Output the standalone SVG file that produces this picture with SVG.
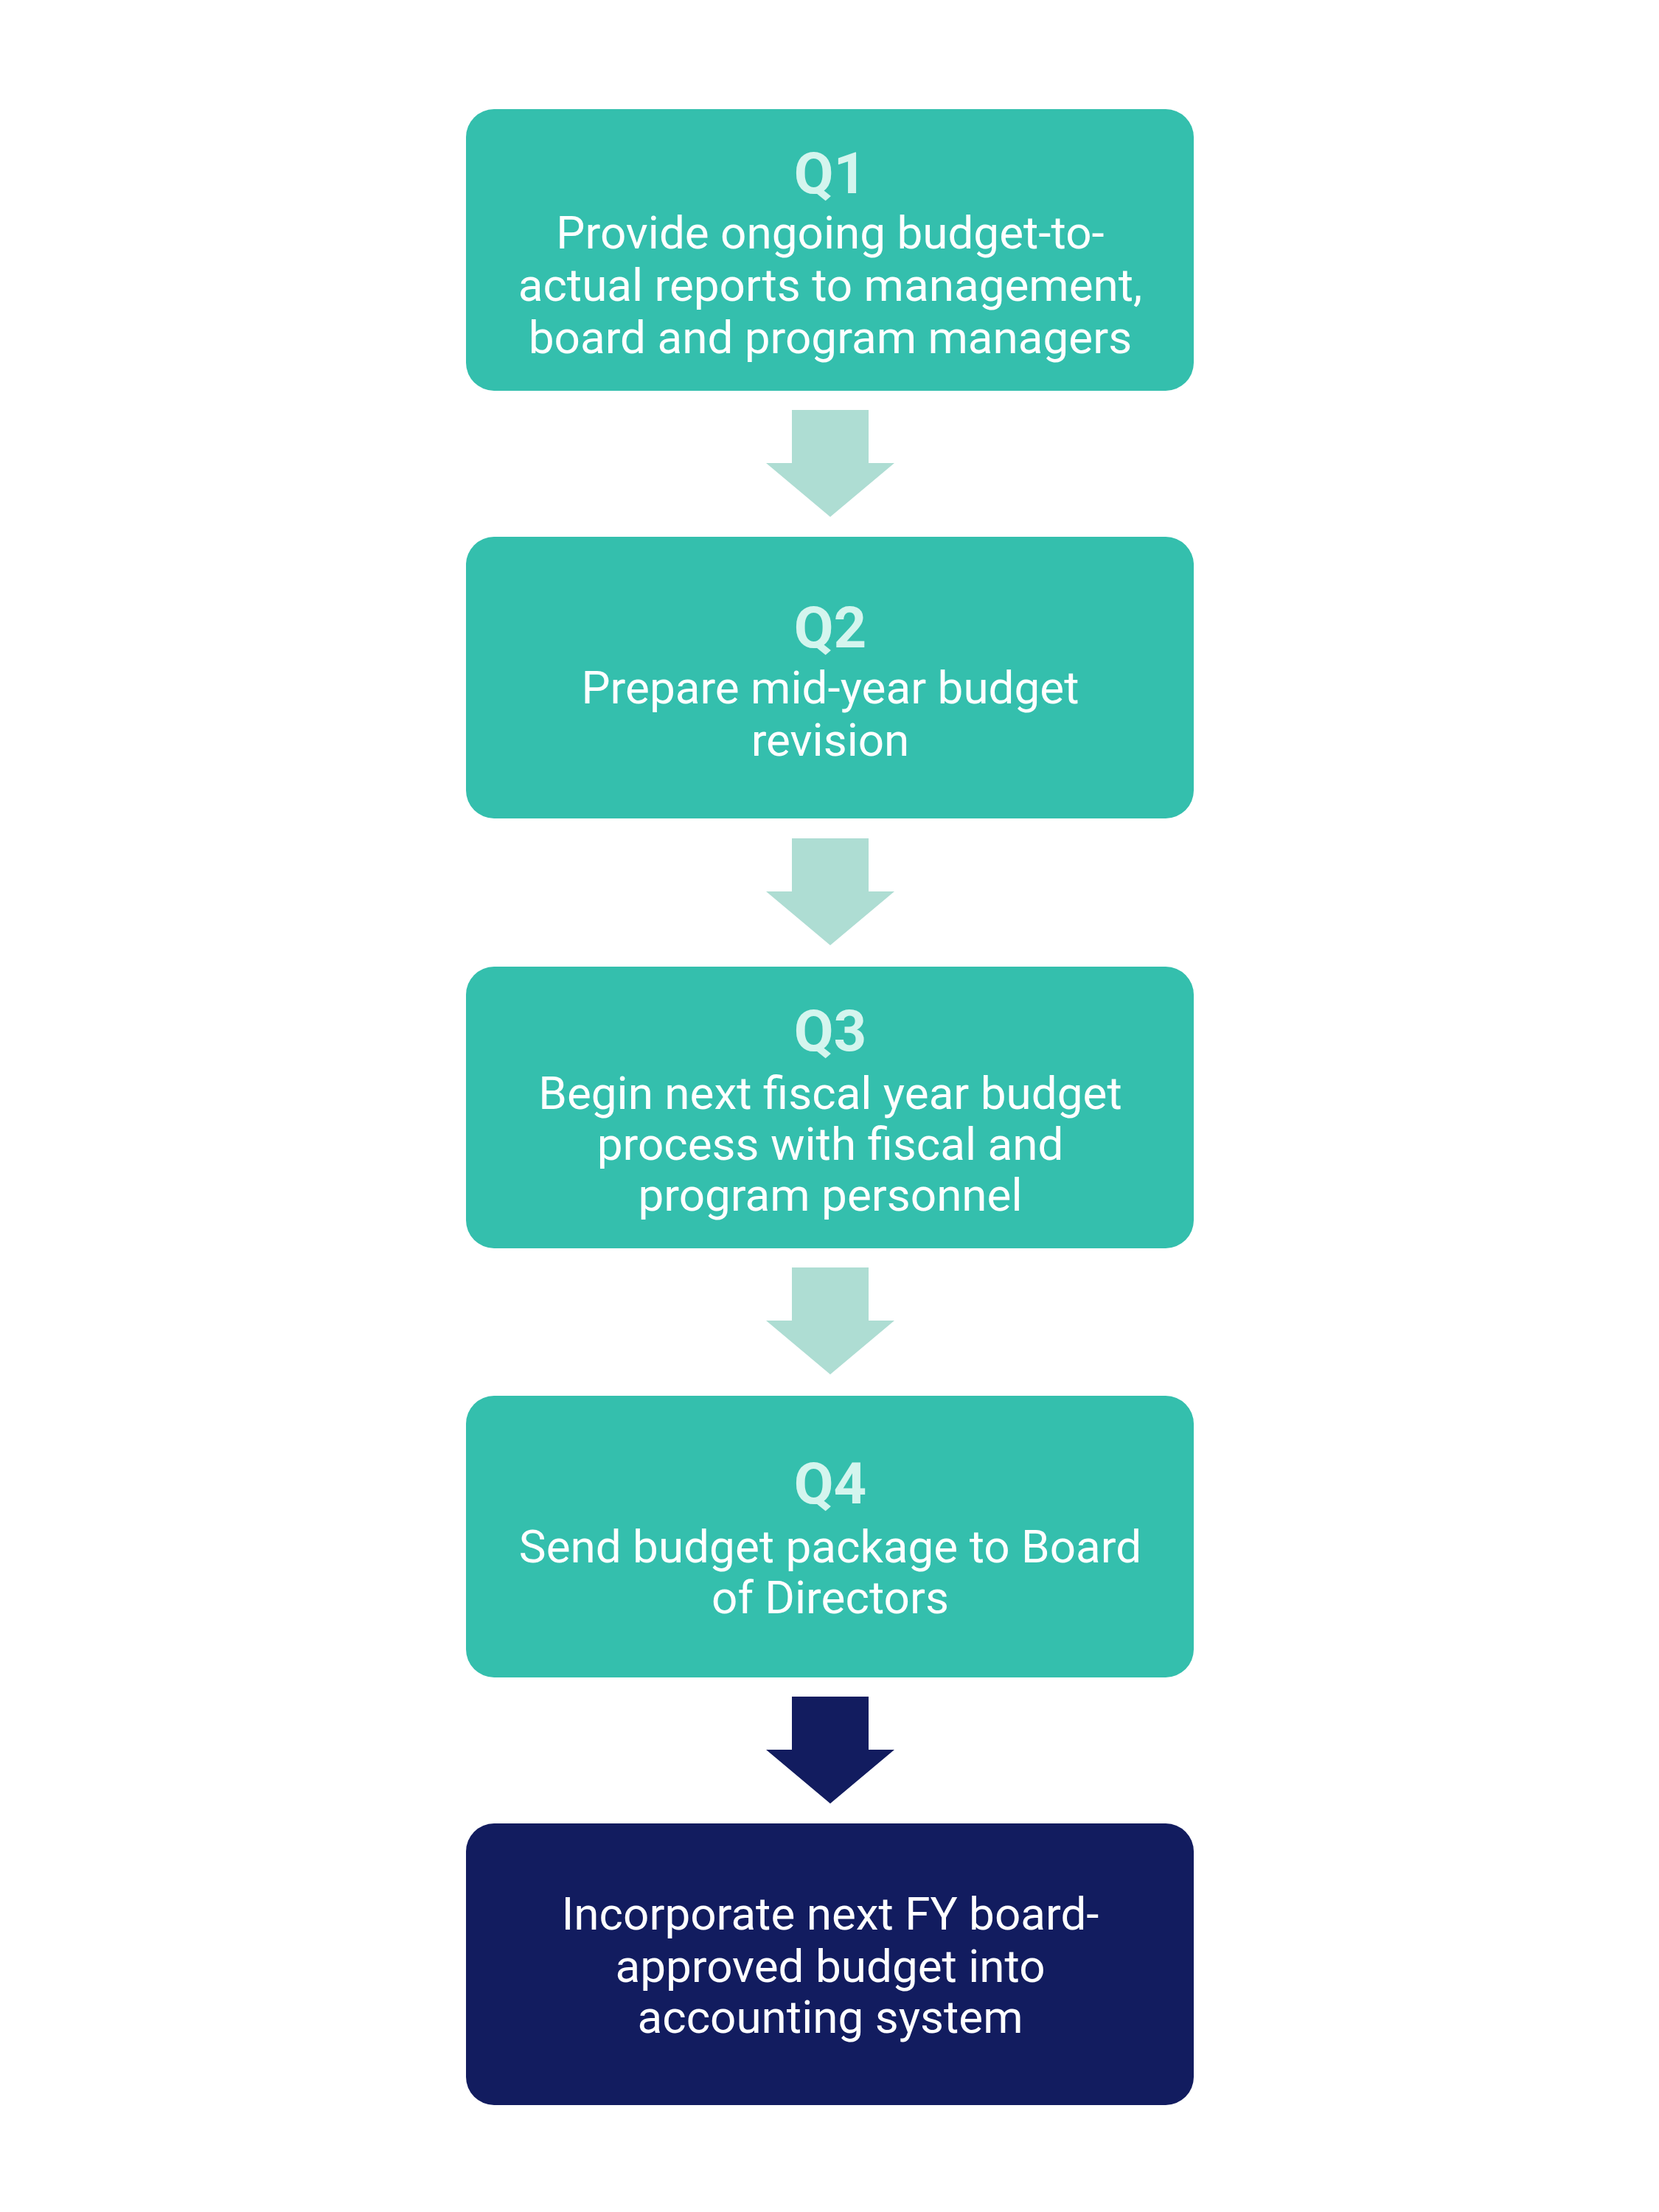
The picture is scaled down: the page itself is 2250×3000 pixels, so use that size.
<svg xmlns="http://www.w3.org/2000/svg" width="2250" height="3000" viewBox="0 0 2250 3000">
<style>
.box{fill:#34BFAD}.nav{fill:#121C5F}
.q{font-family:Roboto,"Liberation Sans",sans-serif;font-weight:bold;font-size:78px;fill:#D4F5EE;text-anchor:middle}
.t{font-family:Roboto,"Liberation Sans",sans-serif;font-size:62px;fill:#fff;text-anchor:middle}
.al{fill:#AEDDD3}.ad{fill:#121C5F}
</style>
<defs><path id="arr" d="M-52,0 H52 V72 H87 L0,145 L-87,72 H-52 Z"/></defs>
<rect width="2250" height="3000" fill="#fff"/>
<g id="n1"><rect class="box" x="632" y="148" width="987" height="382" rx="38"/>
<text class="q" x="1126" y="262">Q1</text>
<text class="t" x="1126" y="337">Provide ongoing budget-to-</text>
<text class="t" x="1126" y="408">actual reports to management,</text>
<text class="t" x="1126" y="479">board and program managers</text></g>
<g id="n2"><rect class="box" x="632" y="728" width="987" height="382" rx="38"/>
<text class="q" x="1126" y="878">Q2</text>
<text class="t" x="1126" y="954">Prepare mid-year budget</text>
<text class="t" x="1126" y="1025">revision</text></g>
<g id="n3"><rect class="box" x="632" y="1311" width="987" height="382" rx="38"/>
<text class="q" x="1126" y="1425">Q3</text>
<text class="t" x="1126" y="1504">Begin next fiscal year budget</text>
<text class="t" x="1126" y="1573">process with fiscal and</text>
<text class="t" x="1126" y="1642">program personnel</text></g>
<g id="n4"><rect class="box" x="632" y="1893" width="987" height="382" rx="38"/>
<text class="q" x="1126" y="2039">Q4</text>
<text class="t" x="1126" y="2119">Send budget package to Board</text>
<text class="t" x="1126" y="2188">of Directors</text></g>
<g id="n5"><rect class="nav" x="632" y="2473" width="987" height="382" rx="38"/>
<text class="t" x="1126" y="2617">Incorporate next FY board-</text>
<text class="t" x="1126" y="2688">approved budget into</text>
<text class="t" x="1126" y="2757">accounting system</text></g>
<g id="connectors">
<use href="#arr" class="al" x="1126" y="556"/>
<use href="#arr" class="al" x="1126" y="1137"/>
<use href="#arr" class="al" x="1126" y="1719"/>
<use href="#arr" class="ad" x="1126" y="2301"/>
</g>
</svg>
